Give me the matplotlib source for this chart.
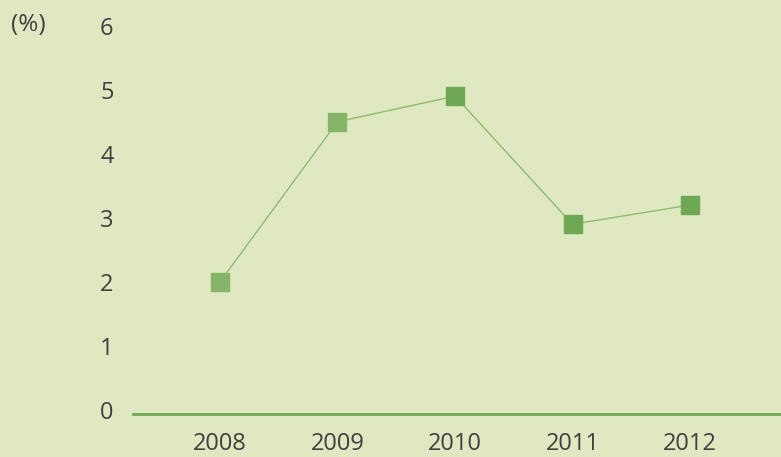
import matplotlib.pyplot as plt

years = ["2008", "2009", "2010", "2011", "2012"]
values = [2.0, 4.5, 4.9, 2.9, 3.2]
marker_colors = ["#86b56a", "#86b56a", "#6fa854", "#6fa854", "#6fa854"]

bg = "#dfe8c1"
text_color = "#404040"
plt.rcParams['font.family'] = ['Open Sans', 'DejaVu Sans']

fig = plt.figure(figsize=(7.81, 4.57), dpi=100, facecolor=bg)
# y=0 sits at pixel 410, y=6 at pixel 25.7
ax = fig.add_axes([133 / 781, 1 - 410 / 457, 1 - 133 / 781, (410 - 25.7) / 457])
ax.set_facecolor(bg)

x = list(range(len(years)))
ax.plot(x, values, color="#8dbb72", linewidth=1.0, zorder=2, clip_on=False)
for xi, v, c in zip(x, values, marker_colors):
    ax.plot(xi, v, marker="s", markersize=13, color=c, linestyle="none",
            zorder=3, clip_on=False)

ax.set_xlim(-0.74, 4.774)
ax.set_ylim(0, 6)
ax.set_xticks(x)
ax.set_xticklabels(years)
ax.set_yticks(range(7))

for side in ["top", "right", "left"]:
    ax.spines[side].set_visible(False)
ax.spines["bottom"].set_color("#6fa854")
ax.spines["bottom"].set_linewidth(2)
ax.spines["bottom"].set_position(("outward", 3))

ax.tick_params(axis="both", length=0, labelsize=17, colors=text_color)
ax.tick_params(axis="y", pad=14)
ax.tick_params(axis="x", pad=13)

fig.text(11 / 781, 1 - 25 / 457, "(%)", fontsize=17.5, color=text_color,
         va="center", ha="left")

fig.savefig("out.png", dpi=100, facecolor=bg)
